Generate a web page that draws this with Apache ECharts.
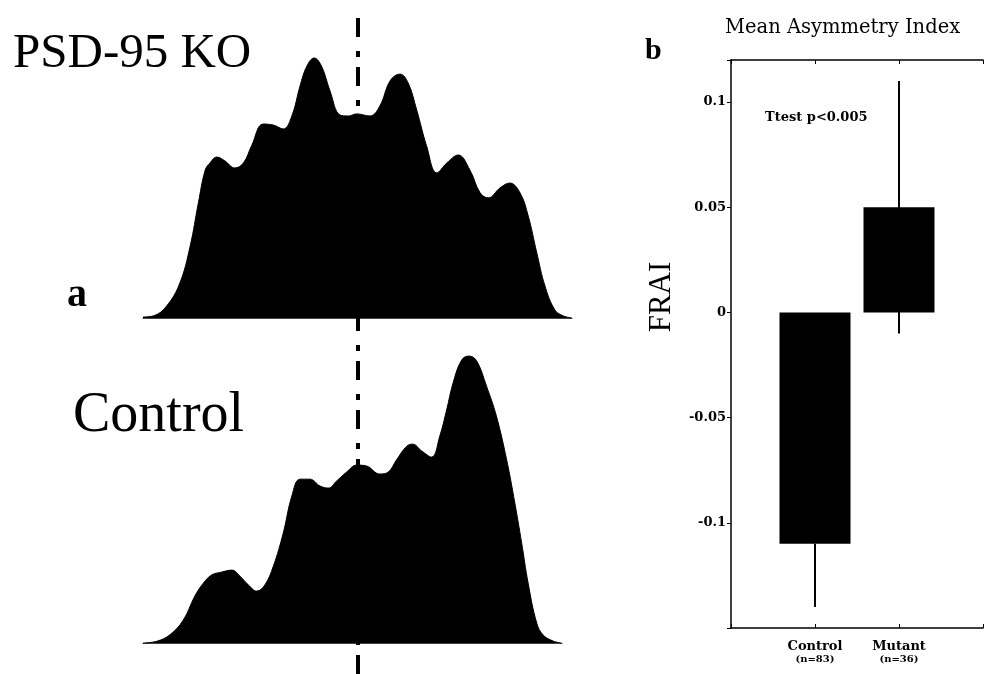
<!DOCTYPE html>
<html>
<head>
<meta charset="utf-8">
<script src="https://cdn.jsdelivr.net/npm/echarts@6/dist/echarts.min.js"></script>
<style>
  html, body { margin: 0; padding: 0; background: #fff; }
  #chart { width: 986px; height: 674px; }
</style>
</head>
<body>
<div id="chart"></div>
<script>
// panel a: position along the dendrite (0-100) vs. relative density (peak = 100)
const koPos = [0, 2.4, 5.5, 8.6, 11.0, 12.9, 14.5, 15.6, 17.2, 19.1, 21.4, 23.4, 25.3, 28.0, 30.4, 32.7,
  34.7, 36.6, 38.2, 39.9, 41.6, 43.6, 45.9, 47.9, 49.8, 52.9, 55.2, 57.6, 59.9, 61.8, 63.8, 66.1,
  68.5, 70.8, 73.5, 76.2, 78.6, 80.5, 83.2, 85.5, 87.9, 89.8, 91.8, 93.7, 96.0, 98.0, 100]
const koDensity = [0.4, 0.8, 4.6, 13.5, 27.7, 44.2, 56.9, 59.6, 61.9, 60.4, 57.7, 59.6, 66.2, 74.6, 74.2, 72.7,
  77.7, 89.2, 96.9, 100, 96.9, 87.3, 78.1, 77.7, 78.5, 77.7, 81.5, 91.2, 93.8, 90.4, 80, 66.2,
  55.8, 59.6, 62.7, 56.9, 48.1, 46.2, 50, 51.9, 48.1, 39.2, 25, 12.3, 3.1, 0.8, 0]

const ctrlPos = [0, 3.2, 6.3, 9.4, 12.1, 14.1, 16.0, 18.3, 20.7, 22.6, 24.6, 26.5, 28.4, 30.4, 32.7, 34.7,
  36.6, 38.9, 41.3, 43.2, 45.1, 47.5, 49.8, 52.1, 55.2, 57.2, 59.1, 61.5, 62.9, 65.0, 67.3, 69.2,
  70.8, 72.3, 74.3, 76.0, 77.8, 80.1, 82.4, 84.8, 86.7, 88.3, 89.8, 91.8, 93.3, 95.6, 97.6]
const ctrlDensity = [0, 0.6, 2.9, 8.0, 16.4, 20.9, 23.7, 24.7, 25.4, 23.3, 20.2, 18.1, 20.2, 26.8, 38.3, 51.2,
  57.1, 57.1, 54.7, 54.0, 56.4, 59.6, 62.0, 61.7, 58.9, 59.6, 63.8, 68.6, 69.3, 66.9, 64.8, 72.1,
  81.2, 90.6, 98.6, 100, 98.3, 89.5, 79.1, 63.8, 48.8, 34.8, 20.9, 7.0, 2.8, 0.7, 0]

const midline = 50

// panel b: mean asymmetry index
const groups = ['Control', 'Mutant']
const groupN = ['(n=83)', '(n=36)']
const groupX = [1, 2]
const meanFRAI = [-0.11, 0.05]
const whiskerLow = [-0.14, -0.01]
const whiskerHigh = [-0.11, 0.11]
const yTicks = [-0.1, -0.05, 0, 0.05, 0.1]
const yTickLabels = ['-0.1', '-0.05', '0', '0.05', '0.1']

const zip = (a, b) => a.map((v, i) => [v, b[i]])

const chart = echarts.init(document.getElementById('chart'), null, { renderer: 'canvas' })

const serif = 'Liberation Serif, Times New Roman, serif'
const wide = 'DejaVu Serif, serif'

const profileX = (max) => ({
  type: 'value', min: 0, max: max,
  axisLine: { show: true, onZero: true, lineStyle: { color: '#444', width: 1 } },
  axisTick: { show: false }, axisLabel: { show: false }, splitLine: { show: false }
})
const hiddenY = (min, max) => ({
  type: 'value', min: min, max: max, show: false, splitLine: { show: false }
})

const profileSeries = (idx, data, yMin, yMax) => ({
  type: 'line',
  xAxisIndex: idx, yAxisIndex: idx,
  data: data,
  smooth: 0.4,
  symbol: 'none',
  silent: true,
  lineStyle: { color: '#000', width: 1 },
  areaStyle: { color: '#000', opacity: 1 },
  markLine: {
    silent: true,
    symbol: 'none',
    label: { show: false },
    lineStyle: { color: '#000', width: 4, type: [19, 10, 6, 14] },
    data: [[{ coord: [midline, yMin] }, { coord: [midline, yMax] }]]
  }
})

const option = {
  backgroundColor: '#fff',
  animation: false,
  grid: [
    { left: 143, width: 429, top: 13, height: 318 },
    { left: 143, width: 419, top: 342, height: 332 },
    { left: 731, right: 0, top: 60, bottom: 46 }
  ],
  xAxis: [
    profileX(100),
    { ...profileX(97.7), gridIndex: 1 },
    {
      gridIndex: 2, type: 'value', min: 0, max: 3, interval: 1,
      axisLine: { onZero: false, lineStyle: { color: '#000', width: 1.5 } },
      axisTick: { inside: true, length: 4, lineStyle: { color: '#000' } },
      splitLine: { show: false },
      axisLabel: {
        margin: 12,
        formatter: (v) => {
          const i = groupX.indexOf(v)
          return i < 0 ? '' : '{a|' + groups[i] + '}\n{b|' + groupN[i] + '}'
        },
        rich: {
          a: { fontFamily: wide, fontWeight: 'bold', fontSize: 13, color: '#000', lineHeight: 13 },
          b: { fontFamily: wide, fontWeight: 'bold', fontSize: 10, color: '#000', lineHeight: 12 }
        }
      }
    },
    {
      gridIndex: 2, type: 'value', min: 0, max: 3, interval: 1, position: 'top',
      axisLine: { onZero: false, lineStyle: { color: '#000', width: 1.5 } },
      axisTick: { inside: true, length: 4, lineStyle: { color: '#000' } },
      axisLabel: { show: false }, splitLine: { show: false }
    }
  ],
  yAxis: [
    hiddenY(-5, 117.3),
    { ...hiddenY(-10.8, 104.9), gridIndex: 1 },
    {
      gridIndex: 2, type: 'value', min: -0.15, max: 0.12, interval: 0.05,
      axisLine: { show: true, lineStyle: { color: '#000', width: 1.5 } },
      axisTick: { show: true, length: 4, lineStyle: { color: '#000' } },
      splitLine: { show: false },
      axisLabel: {
        margin: 5,
        fontFamily: wide, fontWeight: 'bold', fontSize: 13, color: '#000',
        formatter: (v) => {
          const i = yTicks.findIndex(t => Math.abs(t - v) < 1e-9)
          return i < 0 ? '' : yTickLabels[i]
        }
      }
    },
    {
      gridIndex: 2, type: 'value', min: -0.15, max: 0.12, interval: 0.05, position: 'right',
      axisLine: { show: false },
      axisTick: { show: true, inside: true, length: 4, lineStyle: { color: '#000' } },
      axisLabel: { show: false }, splitLine: { show: false }
    }
  ],
  series: [
    profileSeries(0, zip(koPos, koDensity), -5, 117.3),
    profileSeries(1, zip(ctrlPos, ctrlDensity), -10.8, 104.9),
    {
      type: 'custom',
      xAxisIndex: 2, yAxisIndex: 2,
      silent: true,
      data: groupX.map((x, i) => [x, whiskerLow[i], whiskerHigh[i]]),
      renderItem: (params, api) => {
        const p1 = api.coord([api.value(0), api.value(1)])
        const p2 = api.coord([api.value(0), api.value(2)])
        return {
          type: 'line',
          shape: { x1: p1[0], y1: p1[1], x2: p2[0], y2: p2[1] },
          style: { stroke: '#000', lineWidth: 2 }
        }
      }
    },
    {
      type: 'bar',
      xAxisIndex: 2, yAxisIndex: 2,
      silent: true,
      barWidth: 71,
      itemStyle: { color: '#000' },
      data: zip(groupX, meanFRAI)
    }
  ],
  graphic: [
    { type: 'text', left: 13, top: 30, style: { text: 'PSD-95 KO', font: '49px ' + serif, fill: '#000' } },
    { type: 'text', left: 67, top: 276, style: { text: 'a', font: 'bold 40px ' + serif, fill: '#000' } },
    { type: 'text', left: 73, top: 388, style: { text: 'Control', font: '56px ' + serif, fill: '#000' } },
    { type: 'text', left: 645, top: 36, style: { text: 'b', font: 'bold 30px ' + serif, fill: '#000' } },
    { type: 'text', left: 725, top: 18, style: { text: 'Mean Asymmetry Index', font: '19.5px ' + wide, fill: '#000' } },
    { type: 'text', left: 765, top: 111, style: { text: 'Ttest p<0.005', font: 'bold 13px ' + wide, fill: '#000' } },
    {
      type: 'text', x: 662, y: 297, rotation: Math.PI / 2,
      style: { text: 'FRAI', font: '31px ' + serif, fill: '#000', align: 'center', verticalAlign: 'middle' }
    }
  ]
}

chart.setOption(option)
</script>
</body>
</html>
